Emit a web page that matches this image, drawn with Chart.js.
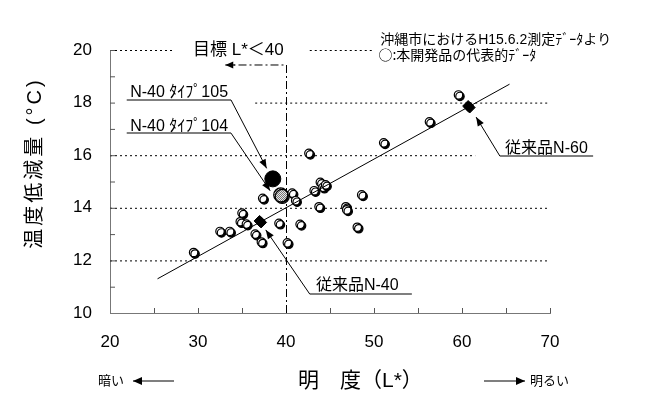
<!DOCTYPE html>
<html>
<head>
<meta charset="utf-8">
<script src="https://cdn.jsdelivr.net/npm/chart.js@4.4.1/dist/chart.umd.min.js"></script>
<style>
  html, body { margin: 0; padding: 0; background: #fff; }
  canvas { display: block; }
</style>
</head>
<body>
<canvas id="c" width="651" height="405"></canvas>
<script>
// 明度 L* と 温度低減量 (°C) -- 沖縄市 H15.6.2 測定
const devL    = [29.5, 32.5, 33.6, 35.0, 34.8, 35.5, 36.5, 37.2, 37.35, 39.2, 40.15, 40.7, 41.1, 41.6,
                 42.6, 43.2, 43.9, 44.2, 44.5, 43.75, 46.8, 46.9, 48.1, 48.6, 51.1, 56.3, 59.6];
const devTemp = [12.3, 13.1, 13.1, 13.8, 13.47, 13.38, 13.0, 12.7, 14.36, 13.41, 12.67, 14.56, 14.27, 13.37,
                 16.07, 14.65, 14.97, 14.78, 14.87, 14.04, 14.04, 13.92, 13.26, 14.49, 16.47, 17.27, 18.29];
const convL    = [37.0, 60.7];     // 従来品 N-40, N-60
const convTemp = [13.5, 17.87];
const type104L = [39.4];
const type104Temp = [14.49];
const type105L = [38.5];
const type105Temp = [15.1];
const fitL    = [25.4, 65.4];
const fitTemp = [11.3, 18.7];
const xTicks = [20, 30, 40, 50, 60, 70];
const yTicks = [10, 12, 14, 16, 18, 20];

const pts = (xs, ys) => xs.map((x, i) => ({ x: x, y: ys[i] }));
const FONT = "'Liberation Sans', 'Noto Sans CJK JP', sans-serif";

// hatched fill for ﾀｲﾌﾟ104
const pc = document.createElement('canvas');
pc.width = pc.height = 2;
const pcx = pc.getContext('2d');
pcx.fillStyle = '#e8e8e8';
pcx.fillRect(0, 0, 2, 2);
pcx.fillStyle = '#777';
pcx.fillRect(0, 0, 1, 1);
pcx.fillRect(1, 1, 1, 1);
const hatch = document.getElementById('c').getContext('2d').createPattern(pc, 'repeat');

// dotted grid segments [y, xFrom, xTo]
const gridSegs = [
  [20, 20, 27.2], [20, 42.7, 49.9],
  [18, 36.5, 70],
  [16, 20, 61.5],
  [14, 20, 70],
  [12, 20, 70]
];

const callouts = [
  { text: 'N-40 ﾀｲﾌﾟ105', tx: 22.3, ty: 18.38, u0: 21.9, u1: 33.75, uy: 18.1, from: 'right', tipX: 37.8, tipY: 15.5 },
  { text: 'N-40 ﾀｲﾌﾟ104', tx: 22.3, ty: 17.1, u0: 21.9, u1: 33.75, uy: 16.84, from: 'right', tipX: 38.2, tipY: 14.65 },
  { text: '従来品N-40', tx: 43.4, ty: 11.06, u0: 42.7, u1: 54.3, uy: 10.72, from: 'left', tipX: 37.7, tipY: 13.16 },
  { text: '従来品N-60', tx: 64.9, ty: 16.27, u0: 64.3, u1: 74.9, uy: 15.97, from: 'left', tipX: 61.6, tipY: 17.45 }
];

function arrow(ctx, x1, y1, x2, y2, len, half) {
  ctx.beginPath();
  ctx.moveTo(x1, y1);
  ctx.lineTo(x2, y2);
  ctx.stroke();
  const a = Math.atan2(y2 - y1, x2 - x1);
  ctx.beginPath();
  ctx.moveTo(x2, y2);
  ctx.lineTo(x2 - len * Math.cos(a) + half * Math.sin(a), y2 - len * Math.sin(a) - half * Math.cos(a));
  ctx.lineTo(x2 - len * Math.cos(a) - half * Math.sin(a), y2 - len * Math.sin(a) + half * Math.cos(a));
  ctx.closePath();
  ctx.fill();
}

const decor = {
  id: 'decor',
  beforeDatasetsDraw(chart) {
    const ctx = chart.ctx, sx = chart.scales.x, sy = chart.scales.y;
    const X = v => sx.getPixelForValue(v), Y = v => sy.getPixelForValue(v);
    ctx.save();
    ctx.strokeStyle = '#000';
    ctx.lineWidth = 1;
    ctx.setLineDash([2, 3]);
    gridSegs.forEach(s => {
      ctx.beginPath();
      ctx.moveTo(X(s[1]), Y(s[0]) + 0.5);
      ctx.lineTo(X(s[2]), Y(s[0]) + 0.5);
      ctx.stroke();
    });
    // inner ticks
    ctx.setLineDash([]);
    ctx.strokeStyle = '#555';
    for (let v = 11; v <= 20; v++) {
      ctx.beginPath();
      ctx.moveTo(X(20), Y(v) + 0.5);
      ctx.lineTo(X(20) + 5, Y(v) + 0.5);
      ctx.stroke();
    }
    for (let v = 25; v <= 70; v += 5) {
      ctx.beginPath();
      ctx.moveTo(X(v) + 0.5, Y(10));
      ctx.lineTo(X(v) + 0.5, Y(10) - 5);
      ctx.stroke();
    }
    // 目標 L*<40 dash-dot
    ctx.strokeStyle = '#000';
    ctx.fillStyle = '#000';
    ctx.setLineDash([8, 3, 2, 3]);
    ctx.beginPath();
    ctx.moveTo(X(40) + 0.5, Y(10));
    ctx.lineTo(X(40) + 0.5, Y(19.43));
    ctx.lineTo(X(33.9), Y(19.43));
    ctx.stroke();
    ctx.setLineDash([]);
    arrow(ctx, X(34.2), Y(19.43), X(33.1), Y(19.43), 8, 3.5);
    ctx.restore();
  },
  beforeDatasetDraw(chart, args) {
    if (chart.data.datasets[args.index].shadow) {
      const ctx = chart.ctx;
      ctx.save();
      ctx.shadowColor = '#000';
      ctx.shadowOffsetX = 1.5;
      ctx.shadowOffsetY = 1.5;
      ctx.shadowBlur = 0;
    }
  },
  afterDatasetDraw(chart, args) {
    if (chart.data.datasets[args.index].shadow) chart.ctx.restore();
  },
  afterDatasetsDraw(chart) {
    const ctx = chart.ctx, sx = chart.scales.x, sy = chart.scales.y;
    const X = v => sx.getPixelForValue(v), Y = v => sy.getPixelForValue(v);
    ctx.save();
    ctx.fillStyle = '#000';
    ctx.strokeStyle = '#000';
    ctx.textBaseline = 'middle';
    ctx.textAlign = 'left';
    callouts.forEach(c => {
      ctx.font = '16px ' + FONT;
      ctx.fillText(c.text, X(c.tx), Y(c.ty));
      ctx.strokeStyle = '#555';
      ctx.lineWidth = 1.5;
      ctx.beginPath();
      ctx.moveTo(X(c.u0), Y(c.uy));
      ctx.lineTo(X(c.u1), Y(c.uy));
      ctx.stroke();
      ctx.strokeStyle = '#000';
      ctx.lineWidth = 1;
      const fx = c.from === 'right' ? X(c.u1) : X(c.u0);
      arrow(ctx, fx, Y(c.uy), X(c.tipX), Y(c.tipY), 9, 3.5);
    });
    ctx.font = '17px ' + FONT;
    ctx.fillText('目標 L*＜40', X(29.43), Y(20));
    ctx.font = '14px ' + FONT;
    ctx.fillText('沖縄市におけるH15.6.2測定ﾃﾞｰﾀより', X(50.7), Y(20.38));
    ctx.font = "14px 'Noto Sans CJK JP', sans-serif";
    ctx.fillText('○:本開発品の代表的ﾃﾞｰﾀ', X(50.5), Y(19.81));

    // axis titles
    ctx.font = '21px ' + FONT;
    ctx.fillText('明　度（L*）', 298, 381);
    ctx.font = '13px ' + FONT;
    ctx.fillText('暗い', 98, 381);
    ctx.fillText('明るい', 530, 381);
    ctx.lineWidth = 1.2;
    arrow(ctx, 174, 381, 133, 381, 9, 4);
    arrow(ctx, 484, 381, 525, 381, 9, 4);

    ctx.translate(35, 163);
    ctx.rotate(-Math.PI / 2);
    ctx.textAlign = 'center';
    ctx.font = '20px ' + FONT;
    ctx.letterSpacing = '3px';
    ctx.fillText('温度低減量 (°C)', 0, 0);
    ctx.restore();
  }
};

new Chart(document.getElementById('c'), {
  type: 'scatter',
  data: {
    datasets: [
      {
        type: 'line',
        data: pts(fitL, fitTemp),
        borderColor: '#000',
        borderWidth: 1,
        pointRadius: 0,
        fill: false
      },
      {
        data: pts(devL, devTemp),
        pointRadius: 4.2,
        pointBackgroundColor: '#fff',
        pointBorderColor: '#000',
        pointBorderWidth: 1.2,
        shadow: true
      },
      {
        data: pts(convL, convTemp),
        pointStyle: 'rectRot',
        pointRadius: 5.5,
        pointBackgroundColor: '#000',
        pointBorderColor: '#000',
        pointBorderWidth: 1,
        shadow: true
      },
      {
        data: pts(type104L, type104Temp),
        pointRadius: 7,
        pointBackgroundColor: hatch,
        pointBorderColor: '#000',
        pointBorderWidth: 1.2,
        shadow: true
      },
      {
        data: pts(type105L, type105Temp),
        pointRadius: 8,
        pointBackgroundColor: '#000',
        pointBorderColor: '#000',
        pointBorderWidth: 1
      }
    ]
  },
  options: {
    responsive: false,
    animation: false,
    layout: { padding: { top: 50, right: 101, left: 0, bottom: 0 } },
    plugins: { legend: { display: false }, tooltip: { enabled: false } },
    scales: {
      x: {
        type: 'linear',
        min: 20, max: 70,
        afterBuildTicks: s => { s.ticks = xTicks.map(v => ({ value: v })); },
        afterFit: s => { s.height = 92; },
        grid: { display: false, drawTicks: false },
        border: { display: true, color: '#777', width: 1 },
        ticks: { padding: 19, color: '#000', font: { family: FONT, size: 17 } }
      },
      y: {
        type: 'linear',
        min: 10, max: 20,
        afterBuildTicks: s => { s.ticks = yTicks.map(v => ({ value: v })); },
        afterFit: s => { s.width = 110; },
        grid: { display: false, drawTicks: false },
        border: { display: true, color: '#777', width: 1 },
        ticks: { padding: 18, color: '#000', font: { family: FONT, size: 17 } }
      }
    }
  },
  plugins: [decor]
});
</script>
</body>
</html>
